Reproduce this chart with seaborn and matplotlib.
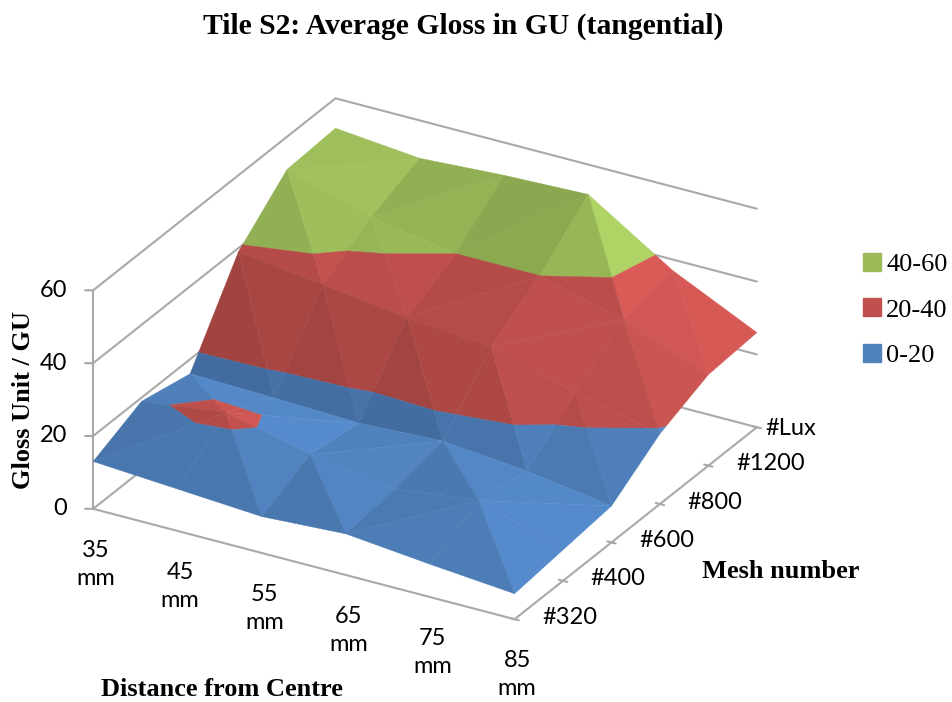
import numpy as np
import matplotlib
matplotlib.use("Agg")
import matplotlib.pyplot as plt
import seaborn as sns
from matplotlib.patches import Patch
from mpl_toolkits.mplot3d import proj3d
from mpl_toolkits.mplot3d.art3d import Poly3DCollection

# values, one list per mesh row
distance_labels = ["35\nmm", "45\nmm", "55\nmm", "65\nmm", "75\nmm", "85\nmm"]
mesh_labels = ["#320", "#400", "#600", "#800", "#1200", "#Lux"]
gloss_320 = [13, 11.5, 10, 11.3, 9, 7]
gloss_400 = [19, 22, 16.5, 13, 16, 8.5]
gloss_600 = [16, 15.4, 14.6, 15.7, 13.5, 10]
gloss_800 = [39, 36, 33, 31, 24.5, 19.3]
gloss_1200 = [51, 44, 40, 40, 34, 25]
gloss_lux = [51.8, 49.6, 51, 51.8, 37, 26]

band_edges = [0, 20, 40, 60]
band_labels = ["0-20", "20-40", "40-60"]
band_colors = ["#4f81bd", "#c0504d", "#9bbb59"]
z_ticks = [0, 20, 40, 60]
GRID = "#a9a9a9"


def clip_polygon(pts, level, keep_above):
    """Cut a polygon at a height, keeping one side."""
    out = []
    for k in range(len(pts)):
        a, b = pts[k], pts[(k + 1) % len(pts)]
        a_in = a[2] >= level if keep_above else a[2] <= level
        b_in = b[2] >= level if keep_above else b[2] <= level
        if a_in:
            out.append(a)
        if a_in != b_in:
            out.append(a + (b - a) * (level - a[2]) / (b[2] - a[2]))
    return out


def facet_shade(tri):
    """Brightness of a facet, light comes from the right and from above."""
    scaled = tri * np.array([0.4, 0.4, 1 / 60])
    n = np.cross(scaled[1] - scaled[0], scaled[2] - scaled[0])
    n = n / np.linalg.norm(n)
    if n[2] < 0:
        n = -n
    return 1 + 0.32 * n[0] + 0.2 * n[1] + 0.1 * (n[2] - 1)


def surface_facets(grid, colors):
    """Split each cell along its higher diagonal and cut the facets into bands."""
    polys, faces = [], []
    for j in range(grid.shape[0] - 1):
        for i in range(grid.shape[1] - 1):
            p00 = np.array([i, j, grid[j, i]], dtype=float)
            p10 = np.array([i + 1, j, grid[j, i + 1]], dtype=float)
            p01 = np.array([i, j + 1, grid[j + 1, i]], dtype=float)
            p11 = np.array([i + 1, j + 1, grid[j + 1, i + 1]], dtype=float)
            if p10[2] + p01[2] >= p00[2] + p11[2]:
                tris = [(p00, p10, p01), (p10, p11, p01)]
            else:
                tris = [(p00, p10, p11), (p00, p11, p01)]
            for tri in tris:
                shade = facet_shade(np.array(tri))
                for b, color in enumerate(colors):
                    piece = clip_polygon(list(tri), band_edges[b], True)
                    if piece:
                        piece = clip_polygon(piece, band_edges[b + 1], False)
                    if len(piece) >= 3:
                        polys.append(np.array(piece))
                        faces.append(np.clip(np.array(color) * shade, 0, 1))
    return polys, faces


def label_at(ax, x, y, z, text, **kwargs):
    """Tick label placed at a data position, through the axes projection."""
    px, py, _ = proj3d.proj_transform(x, y, z, ax.get_proj())
    ax.text2D(px, py, text, transform=ax.transData, color="black", fontsize=17, **kwargs)


sns.set_theme(style="white")
plt.rcParams["font.family"] = ["Lato", "DejaVu Sans"]
palette = sns.color_palette(band_colors)

gloss = np.array([gloss_320, gloss_400, gloss_600, gloss_800, gloss_1200, gloss_lux])
nx, ny = gloss.shape[1] - 1, gloss.shape[0] - 1

fig = plt.figure(figsize=(9.52, 7.02), dpi=100)
ax = fig.add_axes([-0.2675, -0.23, 1.4, 1.4], projection="3d", proj_type="ortho")
ax.computed_zorder = False
ax.view_init(elev=27.1, azim=-60.1)
ax.set_xlim(0, nx)
ax.set_ylim(0, ny)
ax.set_zlim(0, 60)
ax.set_box_aspect((2, 2, 1.01), zoom=0.721)
ax.set_axis_off()

# walls and floor
for z in z_ticks:
    ax.plot([0, 0, nx], [0, ny, ny], [z, z, z], color=GRID, lw=1.5, zorder=1)
    ax.plot([0, -0.072], [0, -0.041], [z, z], color=GRID, lw=1.5, zorder=1)
    label_at(ax, -0.23, -0.13, z, str(z), ha="right", va="center")
ax.plot([0, 0], [0, 0], [0, 60], color=GRID, lw=1.5, zorder=1)
ax.plot([0, nx, nx], [0, 0, ny], [0, 0, 0], color=GRID, lw=1.5, zorder=1)

for j, label in enumerate(mesh_labels):
    ax.plot([nx - 0.05, nx + 0.05], [j, j], [0, 0], color=GRID, lw=1.5, zorder=1)
    shift = 0.1 if label == "#Lux" else 0.33
    label_at(ax, nx + shift, j, 0.3 if label == "#Lux" else 2.5, label, ha="left", va="center")

for i, label in enumerate(distance_labels):
    label_at(ax, i + 0.03, 0, -15, label, ha="center", va="center", linespacing=1.4)

polys, faces = surface_facets(gloss, palette)
ax.add_collection3d(Poly3DCollection(polys, facecolors=faces, edgecolors=faces,
                                     linewidths=0.3, zorder=2))

serif = ["Liberation Serif", "DejaVu Serif"]
fig.text(463 / 952, 1 - 26 / 702, "Tile S2: Average Gloss in GU (tangential)", ha="center",
         va="center", fontsize=21.3, fontweight="bold", family=serif, color="black")
fig.text(24 / 952, 1 - 400 / 702, "Gloss Unit / GU", rotation=90, ha="center", va="center",
         fontsize=19, fontweight="bold", family=serif, color="black")
fig.text(222 / 952, 1 - 689 / 702, "Distance from Centre", ha="center", va="center",
         fontsize=19, fontweight="bold", family=serif, color="black")
fig.text(781 / 952, 1 - 572 / 702, "Mesh number", ha="center", va="center",
         fontsize=19, fontweight="bold", family=serif, color="black")

handles = [Patch(color=palette[b], label=band_labels[b]) for b in (2, 1, 0)]
fig.legend(handles=handles, loc="center left", bbox_to_anchor=(863 / 952, 1 - 310 / 702),
           frameon=False, prop={"family": serif, "size": 19}, handlelength=0.68,
           handleheight=0.68, handletextpad=0.2, labelspacing=0.85, borderpad=0,
           borderaxespad=0, labelcolor="black")

fig.savefig("out.png", dpi=100)
